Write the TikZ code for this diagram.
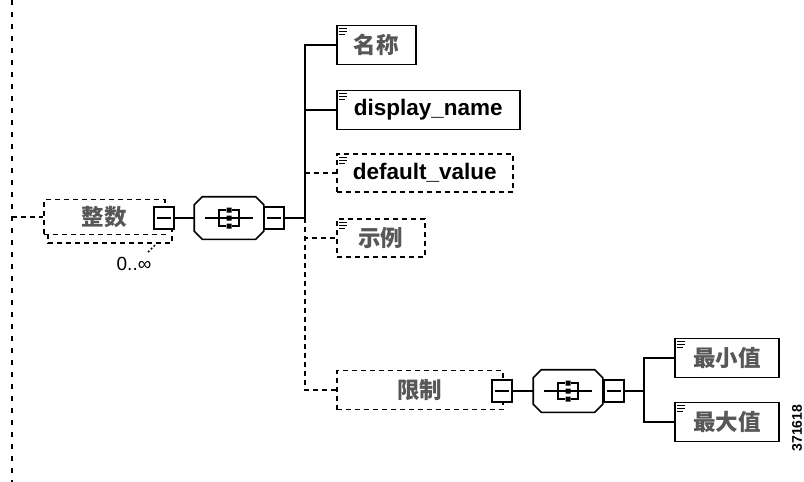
\documentclass[tikz,border=0pt]{standalone}
\usepackage{fontspec}
\setmainfont{Liberation Sans}
\newfontfamily\cjk{Noto Sans CJK SC}
\usetikzlibrary{calc}
\newcommand{\eltext}{\fontsize{22.5}{26}\selectfont}
\newcommand{\zh}[1]{{\cjk\bfseries\color{black!66}#1}}
% three small lines in the top left corner of an element box
\newcommand{\simplemark}[1]{%
\draw [line width=1pt] ($(#1.north west)+(3,4)$) -- +(8,0)
  ($(#1.north west)+(3,7)$) -- +(8,0)
  ($(#1.north west)+(3,10)$) -- +(6,0);}
% the sequence sign inside a compositor
\newcommand{\seqmark}[1]{%
\draw [line width=1.5pt] ($(#1.center)+(-24,0)$) -- ($(#1.center)+(24,0)$);
\draw [line width=1.5pt] ($(#1.center)+(-3,-8)$) -- +(-7,0) -- +(-7,16) -- +(0,16);
\draw [line width=1.5pt] ($(#1.center)+(3,-8)$) -- +(7,0) -- +(7,16) -- +(0,16);
\fill ($(#1.center)+(-2.5,-10.5)$) rectangle +(5,5)
  ($(#1.center)+(-2.5,-2.5)$) rectangle +(5,5)
  ($(#1.center)+(-2.5,5.5)$) rectangle +(5,5);}
\begin{document}
\begin{tikzpicture}[x=1pt,y=-1pt,line width=1.6pt,
  elem/.style={draw,fill=white,anchor=west,inner xsep=16pt,inner ysep=0pt,minimum height=39pt,font=\eltext\bfseries},
  optelem/.style={elem,dash pattern=on 5pt off 4pt},
  minusbox/.style={draw,fill=white,inner sep=0pt,minimum width=20pt,minimum height=22pt,
    path picture={\draw [line width=1.4pt] ($(path picture bounding box.west)+(3,0)$) -- ($(path picture bounding box.east)+(-3,0)$);}},
  seqbox/.style={inner sep=0pt,minimum width=68pt,minimum height=41pt},
  opt/.style={dash pattern=on 5pt off 4pt}]
\useasboundingbox (0,0) rectangle (804,482);
% parent line
\coordinate (rtop) at (12,0);
\coordinate (rbot) at (12,482);
\coordinate (rj) at (12,217);
\draw [line width=2pt,dash pattern=on 5pt off 7pt] (rtop) -- (rbot);
% repeated element
\draw [opt,fill=white] (48,207) rectangle (172,243);
\node [optelem,minimum width=121pt,minimum height=35pt,inner xsep=0pt,font=\eltext] (zs) at (43,217) {\zh{整数}};
\node [minusbox] (zsm) at (164,218) {};
\draw [opt] (rj) -- (zs.west);
\node [font=\fontsize{19}{22}\selectfont] (mult) at (134,264) {0..∞};
\draw [line width=1.4pt,dash pattern=on 2pt off 2pt] ($(mult.north)+(14,-1)$) -- +(8,-8);
% first sequence
\node [seqbox] (seqa) at (229,218) {};
\draw [fill=white] ($(seqa.north west)+(8,0)$) -- ($(seqa.north east)+(-8,0)$) -- ($(seqa.north east)+(0,8)$)
  -- ($(seqa.south east)+(0,-8)$) -- ($(seqa.south east)+(-8,0)$) -- ($(seqa.south west)+(8,0)$)
  -- ($(seqa.south west)+(0,-8)$) -- ($(seqa.north west)+(0,8)$) -- cycle;
\seqmark{seqa}
\node [minusbox] (seqam) at (274,218) {};
\coordinate (ta) at (305,218);
\draw (zsm.east) -- (seqa.west);
\draw (seqam.east) -- (ta);
% children
\node [elem,font=\eltext,minimum width=79pt] (mc) at (336,45) {\zh{名称}};
\node [elem,minimum width=183pt] (dn) at (336,110) {display\_name};
\node [optelem,minimum width=176pt,minimum height=38pt] (dv) at (336,173) {default\_value};
\node [optelem,font=\eltext,minimum width=88pt,minimum height=38pt] (sl) at (336,238) {\zh{示例}};
\node [optelem,font=\eltext,minimum width=166pt,inner xsep=0pt] (xz) at (336,390) {\zh{限制}};
\node [minusbox] (xzm) at (502,391) {};
\foreach \n in {mc,dn,dv,sl} {\simplemark{\n}}
\draw (ta) |- (mc.west);
\draw (ta) |- (dn.west);
\draw [opt] (ta) |- (dv.west);
\draw [opt] (ta) |- (sl.west);
\draw [opt] (ta) |- (xz.west);
% second sequence
\node [seqbox] (seqb) at (568,391) {};
\draw [fill=white] ($(seqb.north west)+(8,0)$) -- ($(seqb.north east)+(-8,0)$) -- ($(seqb.north east)+(0,8)$)
  -- ($(seqb.south east)+(0,-8)$) -- ($(seqb.south east)+(-8,0)$) -- ($(seqb.south west)+(8,0)$)
  -- ($(seqb.south west)+(0,-8)$) -- ($(seqb.north west)+(0,8)$) -- cycle;
\seqmark{seqb}
\node [minusbox] (seqbm) at (614,391) {};
\coordinate (tb) at (644,391);
\draw (xzm.east) -- (seqb.west);
\draw (seqbm.east) -- (tb);
\node [elem,font=\eltext,minimum width=104pt] (zxz) at (674,358) {\zh{最小值}};
\node [elem,font=\eltext,minimum width=104pt] (zdz) at (674,422) {\zh{最大值}};
\foreach \n in {zxz,zdz} {\simplemark{\n}}
\draw (tb) |- (zxz.west);
\draw (tb) |- (zdz.west);
\node [rotate=90,font=\fontsize{14}{16}\selectfont\bfseries] (fig) at (797,428) {371618};
\end{tikzpicture}
\end{document}
